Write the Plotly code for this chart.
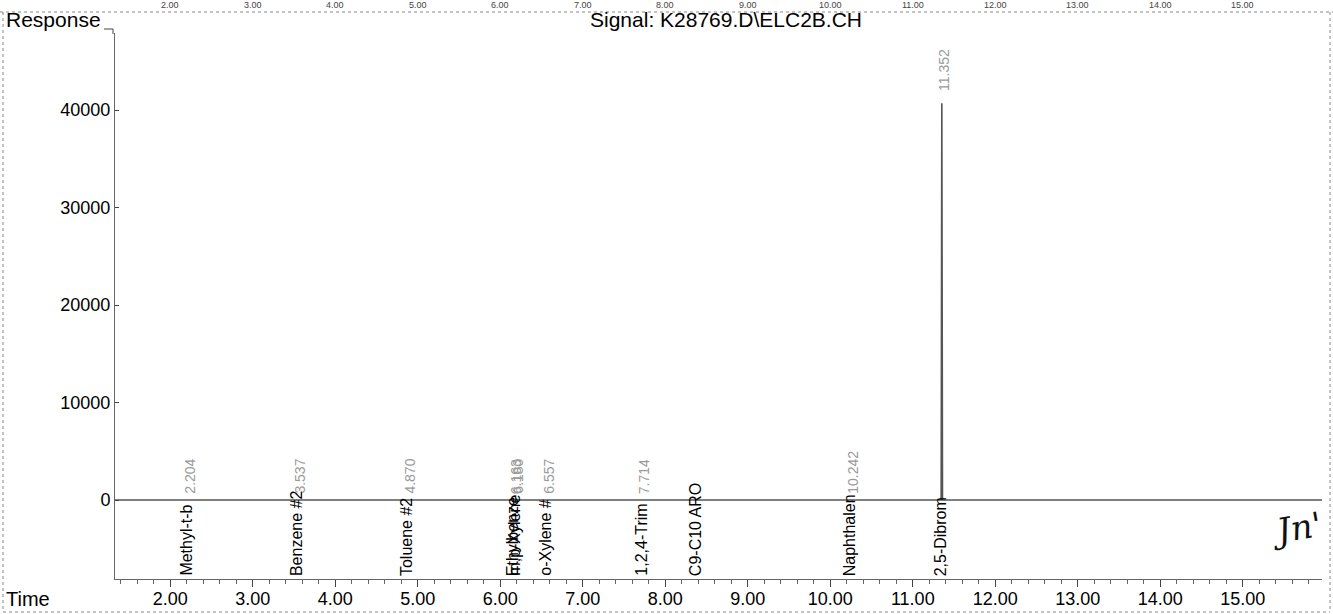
import plotly.graph_objects as go

# ---------------- data ----------------
compounds = ["Methyl-t-b", "Benzene #2", "Toluene #2", "Ethylbenze", "m,p-Xylene",
             "o-Xylene #", "1,2,4-Trim", "C9-C10 ARO", "Naphthalen", "2,5-Dibrom"]
ret_times = [2.204, 3.537, 4.870, 6.163, 6.180, 6.557, 7.714, 8.380, 10.242, 11.352]
ret_labels = ["2.204", "3.537", "4.870", "6.163", "6.180", "6.557", "7.714", "", "10.242", "11.352"]

signal_time = [1.33, 11.344, 11.352, 11.360, 15.96]
signal_resp = [0, 0, 40700, 0, 0]

x_ticks = [2, 3, 4, 5, 6, 7, 8, 9, 10, 11, 12, 13, 14, 15]
x_ticktext = ["2.00", "3.00", "4.00", "5.00", "6.00", "7.00", "8.00", "9.00",
              "10.00", "11.00", "12.00", "13.00", "14.00", "15.00"]
y_ticks = [0, 10000, 20000, 30000, 40000]
y_ticktext = ["0", "10000", "20000", "30000", "40000"]

# ---------------- layout geometry ----------------
W, H = 1333, 614
L, R, T, B = 115, 1322, 33, 579
FONT = "Liberation Sans, Arial, sans-serif"


def px_x(p):
    return (p - L) / (R - L)


def px_y(p):
    return (B - p) / (B - T)


fig = go.Figure()
fig.add_trace(go.Scatter(x=signal_time, y=signal_resp, mode="lines",
                         line=dict(color="#555555", width=1.6),
                         hoverinfo="skip", showlegend=False))

ann = []
# compound names, below the baseline
for name, t in zip(compounds, ret_times):
    ann.append(dict(x=t, y=0, xref="x", yref="paper", text=name, showarrow=False,
                    textangle=-90, xanchor="center", yanchor="bottom", xshift=-1, yshift=1,
                    font=dict(family=FONT, size=16, color="#000000")))
# retention times (gray)
for lab, t, name in zip(ret_labels, ret_times, compounds):
    if not lab:
        continue
    yv = max(signal_resp) if name == "2,5-Dibrom" else 0
    ann.append(dict(x=t, y=yv, xref="x", yref="y", text=lab, showarrow=False,
                    textangle=-90, xanchor="center", yanchor="bottom", xshift=2,
                    yshift=10 if yv else 4,
                    font=dict(family=FONT, size=14, color="#9a9a9a")))

# header texts
ann.append(dict(x=px_x(4), y=px_y(19), xref="paper", yref="paper", text="Response",
                showarrow=False, xanchor="left", yanchor="middle",
                font=dict(family=FONT, size=21, color="#000000")))
ann.append(dict(x=px_x(726), y=px_y(19), xref="paper", yref="paper",
                text="Signal: K28769.D\\ELC2B.CH", showarrow=False,
                xanchor="center", yanchor="middle",
                font=dict(family=FONT, size=21, color="#000000")))
ann.append(dict(x=px_x(4), y=px_y(599), xref="paper", yref="paper", text="Time",
                showarrow=False, xanchor="left", yanchor="middle",
                font=dict(family=FONT, size=20, color="#000000")))
# numbers from the previous page at the very top (small, kept inside the page)
for t, lab in zip(x_ticks, x_ticktext):
    ann.append(dict(x=t, y=1, xref="x", yref="paper", text=lab, showarrow=False,
                    xanchor="center", yanchor="bottom", yshift=21,
                    font=dict(family=FONT, size=9, color="#444444")))
# handwritten initials
ann.append(dict(x=px_x(1296), y=px_y(528), xref="paper", yref="paper", text="Jn'",
                showarrow=False, xanchor="center", yanchor="middle", textangle=-10,
                font=dict(family="DejaVu Serif", size=34, color="#111111", style="italic")))

shapes = [
    # page frame lines (scan)
    dict(type="line", xref="paper", yref="paper", x0=px_x(0), x1=px_x(W), y0=px_y(12), y1=px_y(12),
         line=dict(color="#888888", width=1.2, dash="dot")),
    dict(type="line", xref="paper", yref="paper", x0=px_x(3), x1=px_x(3), y0=px_y(12), y1=px_y(612),
         line=dict(color="#888888", width=1, dash="dot")),
    dict(type="line", xref="paper", yref="paper", x0=px_x(3), x1=px_x(1330), y0=px_y(612), y1=px_y(612),
         line=dict(color="#888888", width=1, dash="dot")),
    dict(type="line", xref="paper", yref="paper", x0=px_x(1330), x1=px_x(1330), y0=px_y(12), y1=px_y(612),
         line=dict(color="#888888", width=1, dash="dot")),
    # Response underscore tick
    dict(type="line", xref="paper", yref="paper", x0=px_x(104), x1=px_x(113), y0=px_y(29), y1=px_y(29),
         line=dict(color="#444444", width=1)),
    dict(type="line", xref="paper", yref="paper", x0=px_x(113), x1=px_x(113), y0=px_y(29), y1=px_y(34),
         line=dict(color="#444444", width=1)),
]

fig.update_layout(
    width=W, height=H, autosize=False,
    margin=dict(l=L, r=W - R, t=T, b=H - B, pad=0, autoexpand=False),
    paper_bgcolor="white", plot_bgcolor="white",
    showlegend=False,
    annotations=ann, shapes=shapes,
    xaxis=dict(range=[1.33, 15.96], tickvals=x_ticks, ticktext=x_ticktext,
               automargin=False,
               showline=True, linecolor="#666666", linewidth=1,
               ticks="outside", ticklen=7, tickcolor="#444444", tickwidth=1,
               minor=dict(ticks="outside", ticklen=4, dtick=0.2, tick0=0, tickcolor="#666666"),
               showgrid=False, zeroline=False, ticklabelstandoff=-4,
               tickfont=dict(family=FONT, size=18, color="#000000")),
    yaxis=dict(range=[-8100, 47900], tickvals=y_ticks, ticktext=y_ticktext,
               automargin=False,
               showline=True, linecolor="#666666", linewidth=1,
               ticks="inside", ticklen=4, tickcolor="#444444",
               showgrid=False, zeroline=False,
               tickfont=dict(family=FONT, size=18, color="#000000")),
)

fig.write_html("out.html", config={"displayModeBar": False},
               post_script="document.body.style.margin='0';document.body.style.overflow='hidden';")
